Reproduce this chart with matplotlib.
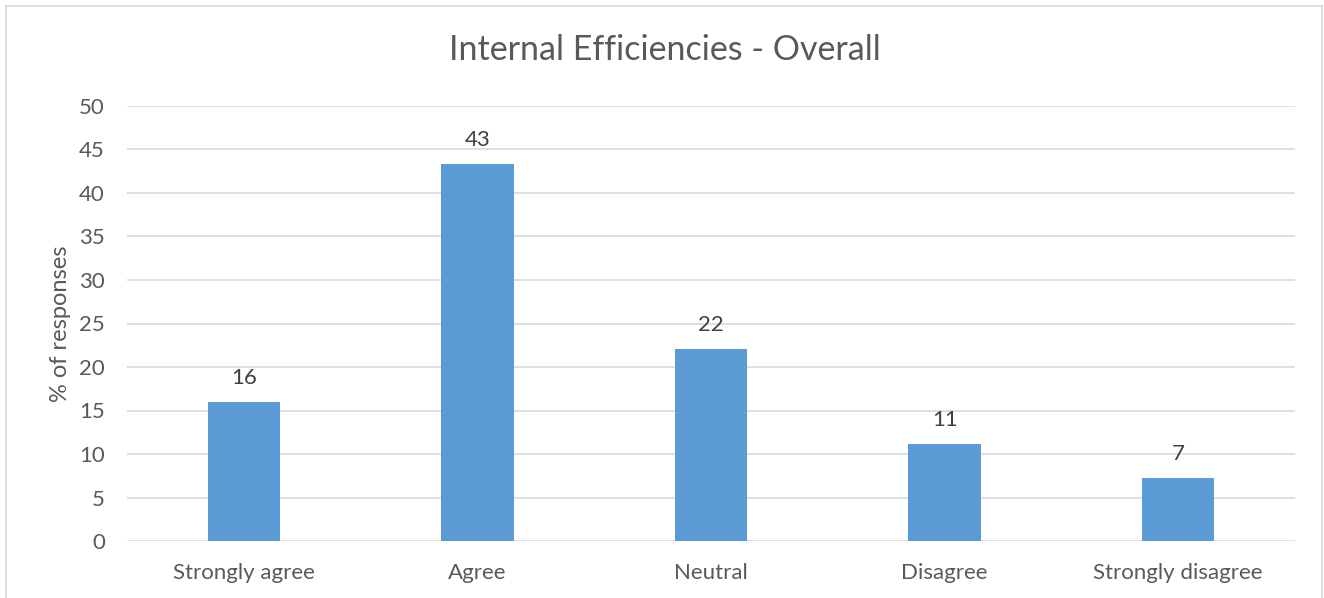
import matplotlib.pyplot as plt
from matplotlib.patches import Rectangle

categories = ["Strongly agree", "Agree", "Neutral", "Disagree", "Strongly disagree"]
percent = [16.0, 43.3, 22.1, 11.2, 7.2]
y_ticks = list(range(0, 55, 5))

plt.rcParams['font.family'] = ['Lato', 'DejaVu Sans']
text_color = '#595959'

fig = plt.figure(figsize=(13.24, 5.98), dpi=100)
ax = fig.add_axes([127 / 1324, 1 - 541 / 598, (1295 - 127) / 1324, (541 - 106) / 598])

x = range(len(categories))
bars = ax.bar(x, percent, width=0.31, color='#5B9BD5', zorder=3)
ax.bar_label(bars, labels=[f"{v:.0f}" for v in percent], padding=10,
             fontsize=16, color='#404040')

ax.set_xlim(-0.5, len(categories) - 0.5)
ax.set_ylim(0, 50)
ax.set_yticks(y_ticks)
ax.set_xticks(list(x))
ax.set_xticklabels(categories)
ax.tick_params(axis='both', length=0, labelsize=16, colors=text_color)
ax.tick_params(axis='y', pad=16)
ax.tick_params(axis='x', pad=16)
ax.grid(axis='y', color='#D9D9D9', linewidth=1.2, zorder=0)
for side in ['top', 'right', 'left', 'bottom']:
    ax.spines[side].set_visible(False)

ax.set_ylabel('% of responses', fontsize=17, color=text_color, labelpad=6)
fig.text(665 / 1324, 1 - 50 / 598, 'Internal Efficiencies - Overall',
         ha='center', va='center', fontsize=24.5, color=text_color)

# chart frame
fig.patches.append(Rectangle((6 / 1324, -0.05), (1322 - 6) / 1324, 1.05 - 6 / 598,
                             transform=fig.transFigure, fill=False,
                             edgecolor='#D9D9D9', linewidth=1.2))

fig.savefig('out.png', dpi=100)
